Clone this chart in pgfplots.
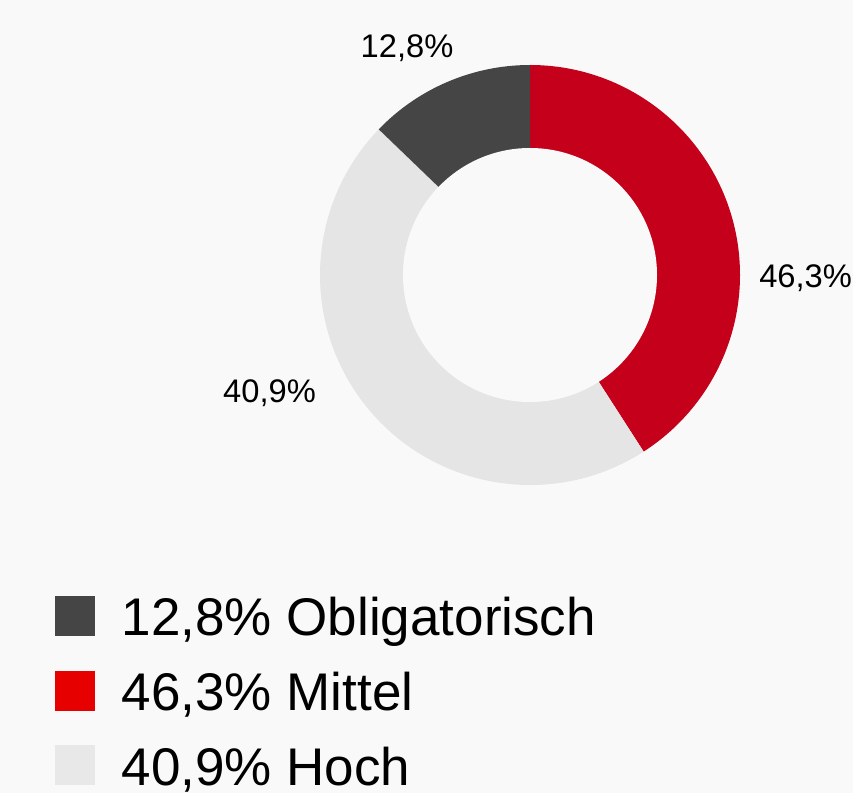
\documentclass[border=0pt]{standalone}
\usepackage{pgfplots}
\pgfplotsset{compat=1.18}
\usepackage{fontspec}
\setmainfont{Liberation Sans}
\definecolor{bg}{HTML}{F9F9F9}
\definecolor{cdark}{HTML}{454545}
\definecolor{cred}{HTML}{C4001A}
\definecolor{clight}{HTML}{E5E5E5}
\definecolor{credleg}{HTML}{E60000}
\definecolor{clightleg}{HTML}{E8E8E8}
% drawn shares (percent) of the ring, clockwise from 12 o'clock
\def\shareRed{40.9}
\def\shareLight{46.3}
\def\shareDark{12.8}
\begin{document}
\begin{tikzpicture}
\clip (0,0) rectangle (639.75pt,594.75pt);
\begin{axis}[at={(0,0)},anchor=south west,
  width=639.75pt,height=594.75pt,scale only axis,
  xmin=0,xmax=853,ymin=0,ymax=793,hide axis,clip=false]
\fill[bg] (axis cs:0,0) rectangle (axis cs:853,793);
\pgfmathsetmacro{\aA}{90}
\pgfmathsetmacro{\aB}{90-3.6*\shareRed}
\pgfmathsetmacro{\aC}{\aB-3.6*\shareLight}
\pgfmathsetmacro{\aD}{\aC-3.6*\shareDark}
\fill[cred] (axis cs:530,518) -- ([shift={(\aA:157.5pt)}]axis cs:530,518) arc[start angle=\aA,end angle=\aB,radius=157.5pt] -- cycle;
\fill[clight] (axis cs:530,518) -- ([shift={(\aB:157.5pt)}]axis cs:530,518) arc[start angle=\aB,end angle=\aC,radius=157.5pt] -- cycle;
\fill[cdark] (axis cs:530,518) -- ([shift={(\aC:157.5pt)}]axis cs:530,518) arc[start angle=\aC,end angle=\aD,radius=157.5pt] -- cycle;
\fill[bg] (axis cs:530,518) circle[radius=95.25pt];
% slice labels
\node[anchor=base,inner sep=0pt,font=\fontsize{24.5pt}{28pt}\selectfont] at (axis cs:407,735) {12,8\%};
\node[anchor=base west,inner sep=0pt,font=\fontsize{24.5pt}{28pt}\selectfont] at (axis cs:759,505) {46,3\%};
\node[anchor=base,inner sep=0pt,font=\fontsize{24.5pt}{28pt}\selectfont] at (axis cs:269.5,390) {40,9\%};
% legend
\fill[cdark] (axis cs:55,197) rectangle (axis cs:95,157);
\fill[credleg] (axis cs:55,122.5) rectangle (axis cs:95,82.5);
\fill[clightleg] (axis cs:55,48) rectangle (axis cs:95,8);
\node[anchor=base west,inner sep=0pt,font=\fontsize{39.75pt}{44pt}\selectfont] at (axis cs:121.5,157) {12,8\% Obligatorisch};
\node[anchor=base west,inner sep=0pt,font=\fontsize{39.75pt}{44pt}\selectfont] at (axis cs:121.5,82.5) {46,3\% Mittel};
\node[anchor=base west,inner sep=0pt,font=\fontsize{39.75pt}{44pt}\selectfont] at (axis cs:121.5,8) {40,9\% Hoch};
\end{axis}
\end{tikzpicture}
\end{document}
